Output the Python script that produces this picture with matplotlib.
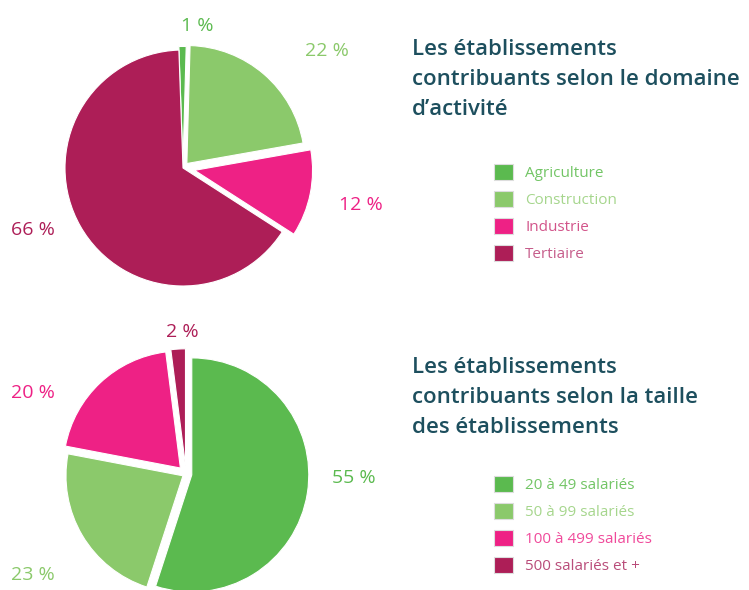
import matplotlib
matplotlib.use("Agg")
import matplotlib.pyplot as plt
from matplotlib.patches import Patch

plt.rcParams['font.family'] = ['Open Sans', 'DejaVu Sans']

# domaine d'activite
dom_labels = ['Agriculture', 'Construction', 'Industrie', 'Tertiaire']
dom_values = [1, 22, 12, 66]
dom_explode = [0.03, 0.05, 0.1, 0.0]

# taille des etablissements
taille_labels = ['20 à 49 salariés', '50 à 99 salariés', '100 à 499 salariés', '500 salariés et +']
taille_values = [55, 23, 20, 2]
taille_explode = [0.05, 0.03, 0.07, 0.07]

green = '#5bba4f'
lgreen = '#8bc96b'
pink = '#ee2185'
wine = '#ad1e57'
colors = [green, lgreen, pink, wine]
dom_text_colors = ['#72c565', '#a6d68d', '#d2548a', '#c65d8b']
taille_text_colors = ['#72c565', '#a6d68d', '#f04a9b', '#b94d7a']
title_color = '#1d4f5e'

W, H = 749, 590
fig = plt.figure(figsize=(W / 100, H / 100), dpi=100)


def pie_axes(cx, cy, r):
    # axes box in pixels, centred on the pie, limits +-1.3
    half = 1.3 * r
    return fig.add_axes([(cx - half) / W, (H - cy - half) / H, 2 * half / W, 2 * half / H])


def draw_pie(ax, values, explode, start):
    ax.pie(values, colors=colors, explode=explode, startangle=start,
           counterclock=False, radius=1.0,
           wedgeprops=dict(edgecolor='white', linewidth=0.8))
    ax.set_xlim(-1.3, 1.3)
    ax.set_ylim(-1.3, 1.3)
    ax.set_aspect('equal')
    ax.axis('off')


ax1 = pie_axes(183, 168, 118)
draw_pie(ax1, dom_values, dom_explode, 92)

ax2 = pie_axes(186, 474, 117)
draw_pie(ax2, taille_values, taille_explode, 90)

# percentage labels
def pct(x, y, txt, c):
    fig.text(x / W, 1 - y / H, txt, color=c, fontsize=14, fontweight='medium',
             ha='center', va='center')

dom_pos = [(197, 26), (327, 51), (361, 205), (33, 230)]
for (x, y), v, c in zip(dom_pos, dom_values, colors):
    pct(x, y, '%d %%' % v, c)

taille_pos = [(354, 478), (33, 575), (33, 393), (182, 332)]
for (x, y), v, c in zip(taille_pos, taille_values, colors):
    pct(x, y, '%d %%' % v, c)

# titles
fig.text(412 / W, 1 - 39 / H,
         "Les établissements\ncontribuants selon le domaine\nd’activité",
         color=title_color, fontsize=16, fontweight='semibold',
         ha='left', va='top', linespacing=1.55)
fig.text(412 / W, 1 - 357 / H,
         "Les établissements\ncontribuants selon la taille\ndes établissements",
         color=title_color, fontsize=16, fontweight='semibold',
         ha='left', va='top', linespacing=1.55)


def legend(labels, tcolors, y_top):
    handles = [Patch(facecolor=c, edgecolor='#dddddd', linewidth=0.8) for c in colors]
    leg = fig.legend(handles, labels, loc='upper left',
                     bbox_to_anchor=(494 / W, 1 - y_top / H),
                     frameon=False, fontsize=11, borderpad=0, borderaxespad=0,
                     handlelength=1.25, handleheight=1.25, handletextpad=0.8,
                     labelspacing=0.63)
    for t, c in zip(leg.get_texts(), tcolors):
        t.set_color(c)


legend(dom_labels, dom_text_colors, 164)
legend(taille_labels, taille_text_colors, 476)

fig.savefig('out.png', dpi=100)
